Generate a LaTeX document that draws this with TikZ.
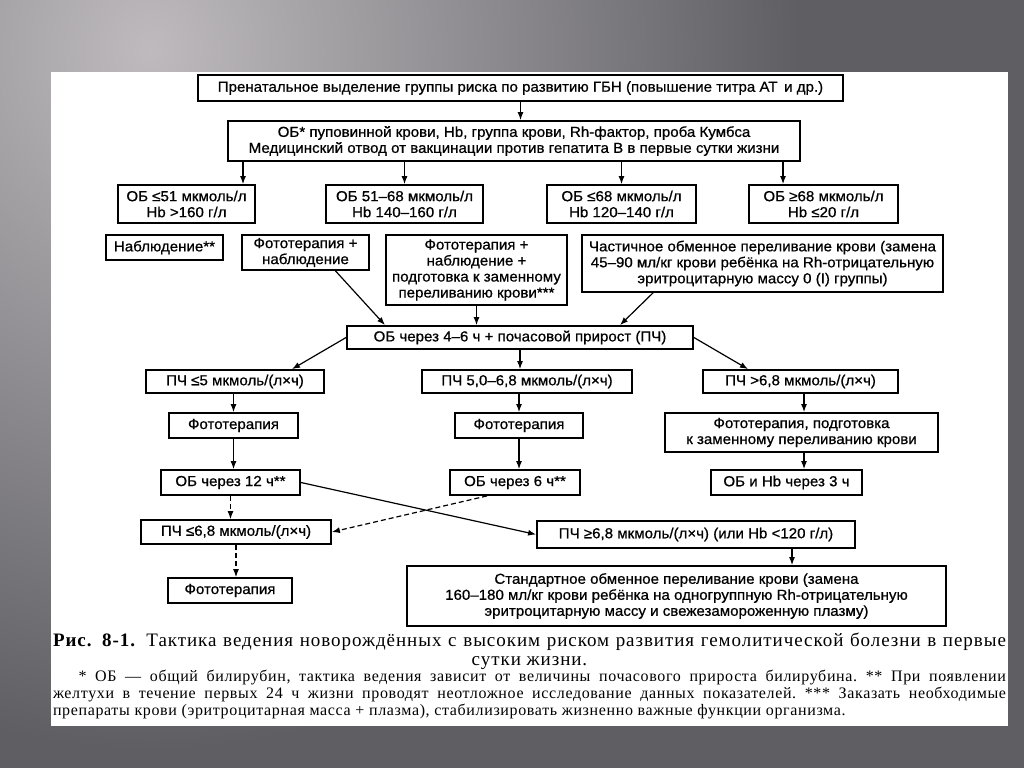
\documentclass[tikz,border=0pt]{standalone}
\usepackage{fontspec}
\setmainfont{Liberation Serif}
\newfontfamily\boxsans[FakeStretch=1.04,FakeBold=0.7]{Liberation Sans}
\usetikzlibrary{arrows.meta,shapes}
\definecolor{bglight}{HTML}{BEBABE}
\definecolor{bgdark}{HTML}{5F5F63}

\tikzset{
	blk/.style={draw, line width=1.8pt, fill=white, align=center, inner sep=1pt, font=\boxsans\fontsize{14.5}{16}\selectfont},
	arr/.style={-{Latex[length=8pt,width=6pt]}, line width=1.2pt},
	darr/.style={arr, dash pattern=on 5pt off 3pt},
	capt/.style={inner sep=0pt, font=\addfontfeature{LetterSpace=5}\fontsize{19}{20}\selectfont},
	note/.style={inner sep=0pt, text width=953pt, align=justify, font=\frenchspacing\addfontfeature{LetterSpace=4}\fontsize{16}{17}\selectfont},
}

\begin{document}
\begin{tikzpicture}[x=1pt,y=-1pt]
\useasboundingbox (0,0) rectangle (1024,768);
% slide background and page
\begin{scope}
	\clip (0,0) rectangle (1024,768);
	\fill[bgdark] (0,0) rectangle (1024,768);
	\shade[inner color=bglight, outer color=bgdark] (-500,-650) rectangle (800,750);
\end{scope}
\fill[white] (51,72) rectangle (1008,726);

% boxes
\node[blk, minimum width=645, minimum height=26] (top) at (520.5,88) {Пренатальное выделение группы риска по развитию ГБН (повышение титра АТ\, и др.)};
\node[blk, minimum width=572, minimum height=40] (ob) at (514,141) {ОБ* пуповинной крови, Hb, группа крови, Rh-фактор, проба Кумбса\\Медицинский отвод от вакцинации против гепатита В в первые сутки жизни};

\node[blk, minimum width=137, minimum height=38] (b1) at (186.5,204) {ОБ ≤51 мкмоль/л\\Hb >160 г/л};
\node[blk, minimum width=157, minimum height=38] (b2) at (404.5,204) {ОБ 51–68 мкмоль/л\\Hb 140–160 г/л};
\node[blk, minimum width=149, minimum height=38] (b3) at (621.5,204) {ОБ ≤68 мкмоль/л\\Hb 120–140 г/л};
\node[blk, minimum width=149, minimum height=38] (b4) at (823.5,204) {ОБ ≥68 мкмоль/л\\Hb ≤20 г/л};

\node[blk, minimum width=117, minimum height=25] (nab) at (164.5,247.5) {Наблюдение**};
\node[blk, minimum width=127, minimum height=35] (fn) at (305.5,252.5) {Фототерапия +\\наблюдение};
\node[blk, minimum width=181, minimum height=70] (fnp) at (476.5,270) {Фототерапия +\\наблюдение +\\подготовка к заменному\\переливанию крови***};
\node[blk, minimum width=361, minimum height=57] (part) at (762.5,263.5) {Частичное обменное переливание крови (замена\\45–90 мл/кг крови ребёнка на Rh-отрицательную\\эритроцитарную массу 0 (I) группы)};

\node[blk, minimum width=346, minimum height=23] (ob46) at (520,337.5) {ОБ через 4–6 ч + почасовой прирост (ПЧ)};

\node[blk, minimum width=178, minimum height=23] (pc1) at (235,381.5) {ПЧ ≤5 мкмоль/(л×ч)};
\node[blk, minimum width=210, minimum height=23] (pc2) at (527,381.5) {ПЧ 5,0–6,8 мкмоль/(л×ч)};
\node[blk, minimum width=195, minimum height=23] (pc3) at (800.5,381.5) {ПЧ >6,8 мкмоль/(л×ч)};

\node[blk, minimum width=129, minimum height=25] (f1) at (233.5,425.5) {Фототерапия};
\node[blk, minimum width=128, minimum height=25] (f2) at (519,425.5) {Фототерапия};
\node[blk, minimum width=273, minimum height=39] (fp) at (801.5,432.5) {Фототерапия, подготовка\\к заменному переливанию крови};

\node[blk, minimum width=139, minimum height=25] (ob12) at (230.5,482.5) {ОБ через 12 ч**};
\node[blk, minimum width=130, minimum height=25] (ob6) at (515,482.5) {ОБ через 6 ч**};
\node[blk, minimum width=151, minimum height=25] (obhb) at (786.5,482.5) {ОБ и Hb через 3 ч};

\node[blk, minimum width=190, minimum height=24] (pcle) at (236,532) {ПЧ ≤6,8 мкмоль/(л×ч)};
\node[blk, minimum width=318, minimum height=27] (pcge) at (696,534.5) {ПЧ ≥6,8 мкмоль/(л×ч) (или Hb <120 г/л)};

\node[blk, minimum width=124, minimum height=25] (f3) at (230,590.5) {Фототерапия};
\node[blk, minimum width=539, minimum height=60] (std) at (676.5,596) {Стандартное обменное переливание крови (замена\\160–180 мл/кг крови ребёнка на одногруппную Rh-отрицательную\\эритроцитарную массу и свежезамороженную плазму)};

% connectors
\draw[arr] (top.south) -- (top.south |- ob.north);
\draw[arr] ([xshift=56.5]b1.north |- ob.south) -- ([xshift=56.5]b1.north);
\draw[arr] (b2.north |- ob.south) -- (b2.north);
\draw[arr] (b3.north |- ob.south) -- (b3.north);
\draw[arr] ([xshift=-40.5]b4.north |- ob.south) -- ([xshift=-40.5]b4.north);

\draw[arr] ([xshift=30]fn.south) -- ([xshift=-135]ob46.north);
\draw[arr] (fnp.south) -- (fnp.south |- ob46.north);
\draw[arr] ([xshift=-109.5]part.south) -- ([xshift=100]ob46.north);

\draw[arr] (ob46.west) -- ([xshift=57]pc1.north);
\draw[arr] (ob46.south) -- (ob46.south |- pc2.north);
\draw[arr] (ob46.east) -- ([xshift=-52.5]pc3.north);

\draw[arr] (f1.north |- pc1.south) -- (f1.north);
\draw[arr] (f2.north |- pc2.south) -- (f2.north);
\draw[arr] ([xshift=2.5]fp.north |- pc3.south) -- ([xshift=2.5]fp.north);

\draw[arr] (f1.south) -- (f1.south |- ob12.north);
\draw[arr] (f2.south) -- (f2.south |- ob6.north);
\draw[arr] ([xshift=2.5]fp.south) -- ([xshift=2.5]fp.south |- obhb.north);

\draw[darr] (ob12.south) -- (ob12.south |- pcle.north);
\draw[arr] (ob12.east) -- (pcge.west);
\draw[darr] ([xshift=-28]ob6.south) -- (pcle.east);
\draw[darr] (pcle.south) -- (pcle.south |- f3.north);
\draw[arr] ([xshift=96]pcge.south) -- ([xshift=96]pcge.south |- std.north);

% caption and footnote
\node[capt, anchor=base] (cap1) at (529.5,646) {\makebox[953pt][s]{\textbf{Рис. 8-1.} Тактика ведения новорождённых с высоким риском развития гемолитической болезни в первые}};
\node[capt, anchor=base] (cap2) at (529.5,665) {сутки жизни.};
\node[note, anchor=north] (fnote) at (529.5,670) {\hspace*{1.6em}* ОБ — общий билирубин, тактика ведения зависит от величины почасового прироста билирубина. ** При появлении\linebreak желтухи в течение первых 24 ч жизни проводят неотложное исследование данных показателей. *** Заказать необходимые\linebreak препараты крови (эритроцитарная масса + плазма), стабилизировать жизненно важные функции организма.};
\end{tikzpicture}
\end{document}
